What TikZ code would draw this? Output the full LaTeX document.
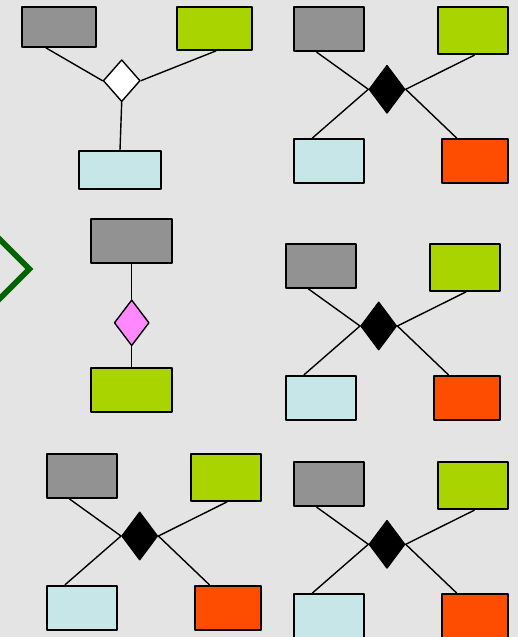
\documentclass[tikz,border=0pt]{standalone}
\usetikzlibrary{shapes.geometric}
\definecolor{bggray}{HTML}{E4E4E4}
\definecolor{boxgray}{HTML}{929292}
\definecolor{limegreen}{HTML}{AAD400}
\definecolor{paleblue}{HTML}{C6E6E8}
\definecolor{redorange}{HTML}{FF4D00}
\definecolor{relpink}{HTML}{FF88FF}
\definecolor{chevgreen}{HTML}{006400}
\begin{document}
\begin{tikzpicture}[
        x=1pt, y=-1pt,
        line cap=round,
        line join=round,
        box/.style={draw, line width=1.8pt, inner sep=0pt, minimum width=70pt, minimum height=44pt},
        rel/.style={shape=diamond, draw, line width=1.4pt, inner sep=0pt, minimum width=36pt, minimum height=48pt},
        link/.style={line width=1.4pt}
    ]
        % Background
        \fill[bggray] (0,0) rectangle (518,637);
        \useasboundingbox (0,0) rectangle (518,637);
        % Chevron at the left edge
        \draw[chevgreen, line width=5.7pt, line cap=butt, line join=miter] (-6,233.7) -- (29.3,269) -- (-6,304.3);
        % Ternary relation (top left)
        \node[box, fill=boxgray, minimum width=74pt, minimum height=40pt] (ga) at (59,27) {};
        \node[box, fill=limegreen, minimum width=75pt, minimum height=43pt] (la) at (214.5,28.5) {};
        \node[box, fill=paleblue, minimum width=82pt, minimum height=38pt] (pa) at (120,170) {};
        \node[rel, fill=white, minimum width=37pt, minimum height=42pt] (ra) at (121.7,80.7) {};
        \draw[link] ([xshift=-13pt]ga.south) -- (ra.west);
        \draw[link] ([xshift=1.5pt]la.south) -- (ra.east);
        \draw[link] (ra.south) -- (pa.north);
        % Binary relation (middle left)
        \node[box, fill=boxgray, minimum width=81pt] (gb) at (131.7,241.3) {};
        \node[box, fill=limegreen, minimum width=81pt] (lb) at (131.7,390.3) {};
        \node[rel, fill=relpink, minimum width=35pt, minimum height=46pt] (rb) at (131.7,322.8) {};
        \draw[link] (gb.south) -- (rb.north);
        \draw[link] (rb.south) -- (lb.north);
        % Quaternary relations
        \foreach \n/\cx/\cy in {1/387/89.3, 2/378.7/326, 3/139.7/536, 4/387/544.3}{
            \begin{scope}[shift={(\cx,\cy)}]
                \node[box, fill=boxgray] (g\n) at (-58,-60) {};
                \node[box, fill=limegreen, minimum height=47pt] (l\n) at (86,-58.5) {};
                \node[box, fill=paleblue] (p\n) at (-58,71.7) {};
                \node[box, fill=redorange, minimum width=66pt] (o\n) at (88,71.7) {};
                \node[rel, fill=black] (r\n) at (0,0) {};
                \draw[link] ([xshift=-12.3pt]g\n.south) -- (r\n.west);
                \draw[link] ([xshift=-16.7pt]p\n.north) -- (r\n.west);
                \draw[link] ([xshift=1.3pt]l\n.south) -- (r\n.east);
                \draw[link] ([xshift=-18.3pt]o\n.north) -- (r\n.east);
            \end{scope}
        }
    \end{tikzpicture}
\end{document}
